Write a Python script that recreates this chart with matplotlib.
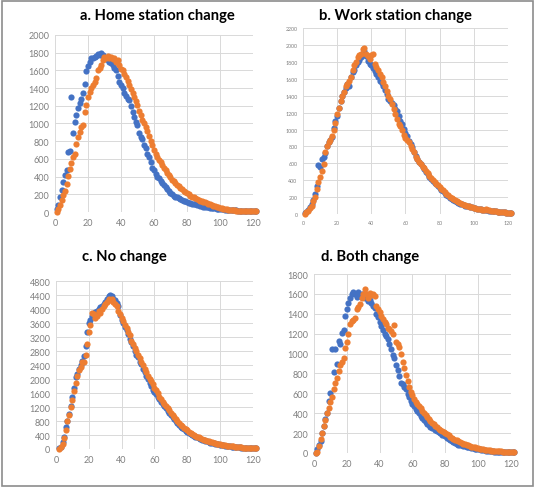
import matplotlib
matplotlib.use("Agg")
import matplotlib.pyplot as plt
from matplotlib.patches import Rectangle

BLUE = "#4472C4"
ORANGE = "#ED7D31"

# ---- data (x = time bin, y = count) ----
home_x = list(range(1, 123))
home_blue = [
    30, 80, 170, 250, 340, 420, 480, 680, 690, 1300,
    890, 1020, 1100, 1170, 1230, 1280, 1350, 1450, 1590, 1650,
    1700, 1735, 1740, 1755, 1760, 1780, 1770, 1800, 1775, 1750,
    1735, 1720, 1700, 1680, 1660, 1630, 1600, 1540, 1470, 1440,
    1400, 1340, 1310, 1280, 1265, 1200, 1130, 1075, 1020, 980,
    890, 850, 820, 760, 720, 660, 620, 565, 500, 470,
    430, 400, 380, 350, 330, 300, 280, 260, 240, 215,
    200, 185, 175, 165, 155, 145, 135, 125, 120, 110,
    105, 100, 95, 90, 85, 80, 75, 70, 66, 62,
    58, 55, 52, 49, 46, 43, 40, 38, 36, 34,
    32, 30, 28, 26, 24, 22, 21, 20, 19, 18,
    17, 16, 15, 14, 13, 12, 11, 10, 10, 9, 8, 8,
]
home_orange = [
    0, 30, 80, 140, 190, 240, 320, 410, 490, 550,
    620, 660, 770, 850, 900, 960, 985, 1130, 1210, 1300,
    1360, 1400, 1440, 1470, 1510, 1600, 1630, 1660, 1715, 1755,
    1740, 1765, 1740, 1755, 1730, 1745, 1700, 1720, 1660, 1620,
    1600, 1560, 1520, 1480, 1440, 1390, 1340, 1300, 1250, 1210,
    1140, 1100, 1040, 1000, 960, 910, 860, 800, 760, 700,
    660, 620, 590, 560, 530, 500, 470, 440, 415, 390,
    365, 345, 325, 310, 290, 270, 255, 240, 225, 210,
    198, 186, 175, 165, 155, 146, 138, 130, 122, 115,
    108, 100, 92, 85, 78, 70, 64, 58, 52, 47,
    42, 38, 34, 30, 27, 24, 22, 20, 18, 17,
    16, 15, 14, 13, 12, 11, 10, 10, 9, 8, 8, 7,
]

work_x = list(range(1, 123))
work_blue = [
    10, 25, 45, 80, 120, 170, 240, 330, 580, 560,
    650, 670, 720, 800, 850, 880, 910, 1020, 1100, 1160,
    1260, 1340, 1400, 1440, 1490, 1540, 1510, 1620, 1680, 1700,
    1760, 1800, 1820, 1860, 1900, 1930, 1870, 1810, 1780, 1760,
    1730, 1690, 1660, 1620, 1580, 1550, 1520, 1470, 1420, 1360,
    1340, 1310, 1290, 1240, 1220, 1160, 1100, 1060, 1010, 960,
    920, 870, 830, 790, 740, 690, 650, 620, 590, 560,
    530, 500, 470, 440, 415, 390, 370, 350, 335, 310,
    290, 270, 250, 230, 210, 195, 180, 165, 150, 140,
    130, 120, 115, 110, 100, 95, 90, 85, 80, 75,
    70, 65, 60, 55, 50, 48, 45, 42, 40, 38,
    35, 32, 30, 28, 25, 22, 20, 18, 16, 14, 12, 10,
]
work_orange = [
    0, 20, 40, 70, 90, 150, 200, 300, 380, 440,
    510, 590, 730, 810, 850, 880, 920, 990, 1080, 1180,
    1260, 1340, 1400, 1450, 1520, 1540, 1580, 1620, 1700, 1760,
    1800, 1860, 1880, 1900, 1950, 1970, 1900, 1870, 1840, 1880,
    1900, 1780, 1740, 1700, 1660, 1620, 1560, 1510, 1460, 1400,
    1360, 1300, 1240, 1190, 1120, 1070, 1040, 990, 940, 900,
    880, 850, 810, 770, 730, 680, 650, 620, 590, 560,
    540, 510, 480, 455, 430, 405, 380, 360, 340, 320,
    300, 280, 260, 240, 220, 205, 190, 175, 160, 150,
    140, 130, 120, 112, 105, 98, 92, 86, 80, 75,
    70, 65, 60, 56, 52, 50, 60, 45, 42, 40,
    37, 34, 31, 28, 25, 22, 20, 18, 16, 15, 13, 12,
]

none_x = list(range(2, 123))
none_blue = [
    20, 60, 190, 335, 620, 810, 1000, 1240, 1500,
    1750, 2050, 2150, 2300, 2390, 2530, 2670, 2960, 3340, 3600,
    3700, 3800, 3900, 3920, 3960, 4000, 4060, 4100, 4150, 4220,
    4300, 4380, 4420, 4380, 4300, 4250, 4180, 4100, 3820, 3700,
    3600, 3480, 3400, 3290, 3150, 3060, 2960, 2800, 2700, 2620,
    2500, 2430, 2300, 2200, 2080, 2000, 1900, 1800, 1700, 1640,
    1560, 1500, 1420, 1350, 1280, 1220, 1160, 1100, 1040, 980,
    920, 860, 800, 740, 680, 640, 600, 560, 520, 490,
    460, 430, 400, 375, 350, 330, 310, 290, 270, 250,
    235, 215, 200, 185, 170, 160, 150, 140, 130, 120,
    110, 100, 92, 85, 78, 72, 66, 60, 56, 52,
    48, 44, 40, 37, 34, 31, 28, 26, 24, 22, 20, 18,
]
none_orange = [
    10, 50, 150, 300, 550, 800, 980, 1200, 1400,
    1650, 1900, 2100, 2250, 2350, 2480, 2500, 2700, 3000, 3350,
    3550, 3900, 3850, 3750, 3800, 3950, 3900, 4000, 4100, 4150,
    4200, 4300, 4250, 4280, 4200, 4150, 4100, 3950, 3850, 3750,
    3650, 3550, 3450, 3350, 3250, 3100, 3000, 2900, 2800, 2700,
    2600, 2500, 2400, 2300, 2200, 2100, 2000, 1950, 1850, 1750,
    1680, 1600, 1500, 1420, 1350, 1290, 1230, 1170, 1110, 1040,
    980, 920, 860, 800, 750, 700, 650, 610, 570, 530,
    500, 470, 440, 410, 380, 355, 330, 310, 290, 270,
    250, 235, 220, 205, 190, 175, 165, 155, 145, 135,
    125, 115, 105, 98, 90, 84, 78, 72, 66, 60,
    55, 50, 46, 42, 38, 35, 32, 30, 28, 26, 24, 22,
]

both_x = list(range(1, 123))
both_blue = [
    0, 40, 80, 120, 200, 275, 340, 400, 520, 600,
    1050, 810, 1045, 900, 1130, 1100, 1210, 1240, 1380, 1450,
    1510, 1560, 1600, 1620, 1600, 1570, 1620, 1580, 1600, 1580,
    1560, 1580, 1530, 1540, 1510, 1480, 1460, 1400, 1370, 1320,
    1280, 1240, 1200, 1180, 1150, 1100, 1045, 990, 960, 880,
    830, 770, 700, 690, 660, 640, 590, 560, 520, 490,
    470, 440, 420, 400, 370, 350, 330, 310, 295, 280,
    265, 255, 250, 235, 220, 208, 196, 185, 176, 168,
    155, 142, 130, 120, 110, 100, 92, 85, 80, 76,
    72, 68, 64, 60, 56, 52, 48, 45, 42, 40,
    37, 34, 31, 28, 25, 22, 20, 18, 16, 14,
    12, 11, 10, 9, 8, 8, 7, 7, 6, 6, 5, 5,
]
both_orange = [
    0, 10, 70, 140, 200, 270, 330, 400, 450, 510,
    560, 640, 700, 750, 820, 880, 920, 960, 1060, 1120,
    1200, 1300, 1330, 1340, 1360, 1450, 1470, 1500, 1560, 1600,
    1650, 1600, 1560, 1610, 1590, 1600, 1580, 1480, 1450, 1420,
    1380, 1350, 1320, 1300, 1260, 1250, 1230, 1200, 1290, 1120,
    1100, 1070, 1000, 920, 850, 780, 720, 660, 610, 580,
    540, 510, 490, 470, 450, 420, 400, 380, 360, 340,
    320, 305, 290, 275, 260, 245, 232, 220, 210, 200,
    188, 176, 165, 155, 145, 135, 126, 118, 110, 102,
    95, 88, 82, 76, 70, 65, 60, 56, 52, 48,
    44, 40, 37, 34, 31, 28, 26, 24, 22, 20,
    18, 17, 16, 15, 14, 13, 12, 11, 10, 10, 9, 9,
]

fig = plt.figure(figsize=(5.35, 4.89), dpi=100)

panels = [
    # title, x, blue, orange, ymax, ystep, axes rect, title pos, tick size
    ("a. Home station change", home_x, home_blue, home_orange, 2000, 200,
     [0.1028, 0.5644, 0.370, 0.362], (0.295, 0.967), 6.5),
    ("b. Work station change", work_x, work_blue, work_orange, 2200, 200,
     [0.5664, 0.5603, 0.383, 0.380], (0.739, 0.967), 3.8),
    ("c. No change", none_x, none_blue, none_orange, 4800, 400,
     [0.1047, 0.0798, 0.368, 0.343], (0.232, 0.475), 6.5),
    ("d. Both change", both_x, both_blue, both_orange, 1800, 200,
     [0.5869, 0.0716, 0.368, 0.366], (0.692, 0.475), 6.5),
]

for title, xs, blue, orange, ymax, ystep, rect, tpos, tsize in panels:
    ax = fig.add_axes(rect)
    ax.scatter(xs, blue, s=20, color=BLUE, linewidths=0, zorder=3, clip_on=False)
    ax.scatter(xs, orange, s=20, color=ORANGE, linewidths=0, zorder=4, clip_on=False)
    ax.set_xlim(0, 120)
    ax.set_ylim(0, ymax)
    ax.set_xticks(range(0, 121, 20))
    ax.set_yticks(range(0, ymax + 1, ystep))
    ax.grid(True, color="#D9D9D9", linewidth=0.7)
    ax.set_axisbelow(True)
    for sp in ax.spines.values():
        sp.set_visible(False)
    ax.tick_params(length=0, colors="#7F7F7F", labelsize=tsize, pad=4)
    for lab in ax.get_xticklabels() + ax.get_yticklabels():
        lab.set_family("Lato")
    fig.text(tpos[0], tpos[1], title, ha="center", va="center",
             fontsize=10.6, fontweight="bold", family="Lato", color="#000000")

# frame around the whole picture
fig.patches.append(Rectangle((0.004, 0.004), 0.992, 0.992, transform=fig.transFigure,
                             fill=False, edgecolor="#8C8C8C", linewidth=1.2))

fig.savefig("out.png", dpi=100, facecolor="white")
